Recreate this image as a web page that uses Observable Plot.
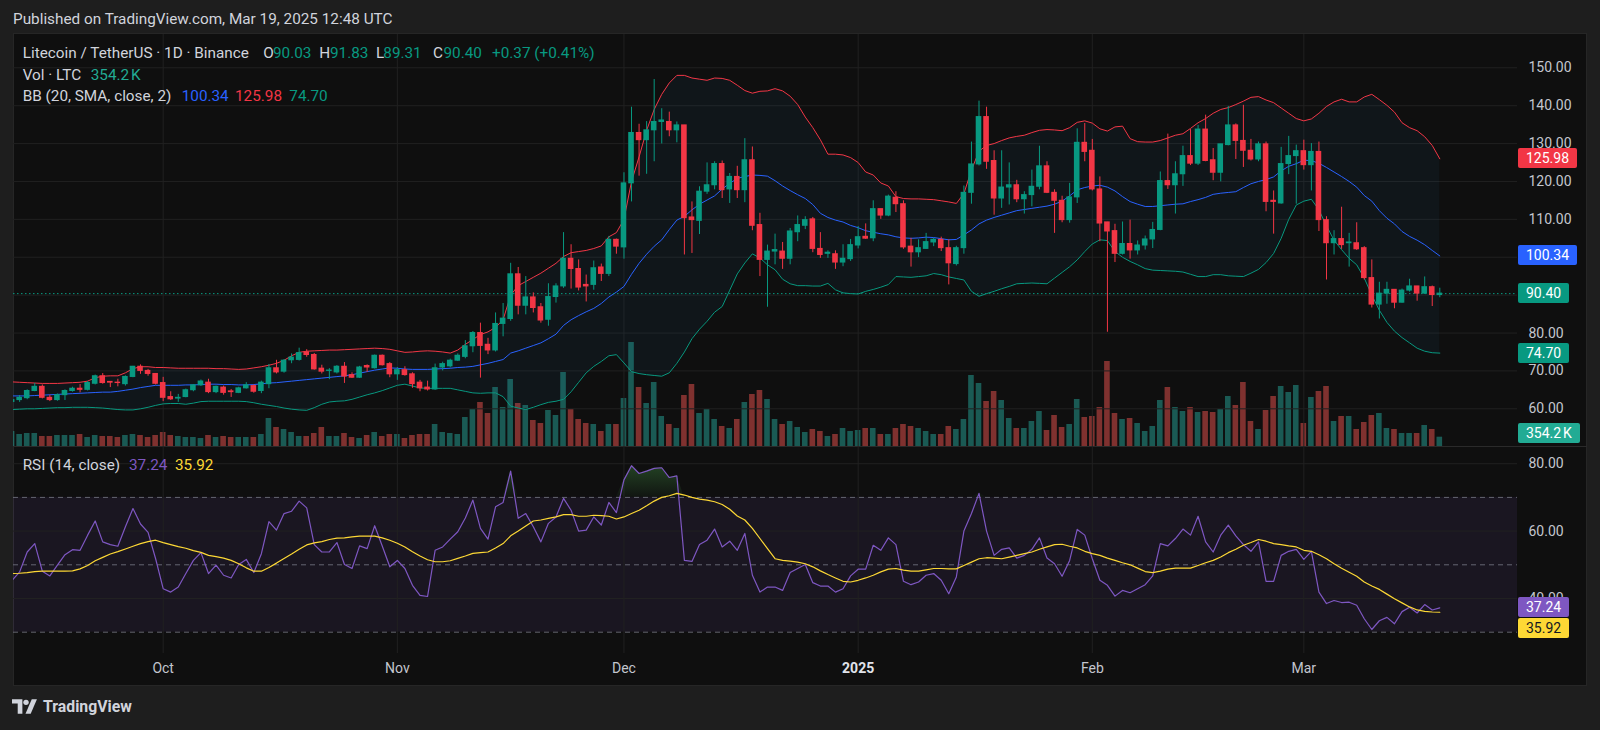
<!DOCTYPE html>
<html>
<head>
<meta charset="utf-8">
<script src="https://cdn.jsdelivr.net/npm/d3@7"></script>
<script src="https://cdn.jsdelivr.net/npm/@observablehq/plot@0.6"></script>
<style>
html,body{margin:0;padding:0;background:#1e1e1e;overflow:hidden;}
#root{position:relative;width:1600px;height:730px;background:#1e1e1e;font-family:Roboto,"Noto Sans",sans-serif;overflow:hidden;}
#frame{position:absolute;left:12.5px;top:33.3px;width:1574.5px;height:652.7px;background:#0f0f0f;box-sizing:border-box;border:1px solid #262626;}
#sep{position:absolute;left:12.5px;top:446px;width:1574.5px;height:1px;background:#2a2a2a;}
#layers{position:absolute;left:0;top:0;width:1600px;height:730px;clip-path:inset(0px 0px 0px 13px);}
.layer{position:absolute;left:0;top:0;}
.txt{position:absolute;white-space:nowrap;line-height:20px;font-size:15.3px;color:#d1d4dc;}
.badge{position:absolute;left:1518px;height:20px;line-height:20px;padding:0 8px;border-radius:2px;font-size:14px;color:#fff;white-space:nowrap;}
</style>
</head>
<body>
<div id="root">
  <div class="txt" style="left:13px;top:9px;font-size:15.3px;">Published on TradingView.com, Mar 19, 2025 12:48 UTC</div>
  <div id="frame"></div>
  <div id="sep"></div>
  <div id="layers"></div>
  <div id="legend"></div>
  <div id="badges"></div>
  <div style="position:absolute;left:12px;top:696px;height:20px;display:flex;align-items:center;">
    <svg width="27" height="15" viewBox="0 0 26 14"><path d="M0 0h10v14H5.5V4H0z" fill="#d1d4dc"/><circle cx="13.5" cy="3" r="2.6" fill="#d1d4dc"/><path d="M19 0h5l-6 14h-5z" fill="#d1d4dc"/></svg>
    <span style="margin-left:4px;font-size:15.8px;font-weight:700;color:#d1d4dc;">TradingView</span>
  </div>
</div>
<script>
// ---------------- data ----------------
const startDay = "2024-09-11"; // first daily candle; one candle per day to 2025-03-19

const open = [
61.8,62.3,62.8,64.7,65.8,62.9,62.3,63.6,64.7,65.3,
65.0,66.6,68.6,67.1,66.9,66.5,68.4,71.1,70.0,69.2,
66.8,63.1,62.7,63.1,64.9,66.2,66.9,64.4,65.6,64.6,
64.2,65.4,66.0,64.7,66.5,70.7,69.8,72.8,72.9,74.9,
74.2,70.6,70.0,69.6,71.1,68.9,68.2,71.3,70.7,74.0,
71.8,69.1,70.2,69.1,66.9,65.6,65.1,70.9,71.2,72.7,
73.7,76.5,80.0,76.9,75.4,82.4,83.7,95.5,87.2,89.4,
86.8,83.5,89.5,92.3,99.6,96.9,92.7,92.7,97.3,95.6,
104.6,102.6,119.5,132.8,130.9,133.5,135.7,135.7,133.5,134.8,
110.5,109.6,117.3,119.0,124.6,117.9,121.2,117.7,125.6,108.5,
99.3,101.5,101.5,99.6,106.6,108.3,110.0,102.2,100.9,100.8,
98.6,99.5,103.1,105.4,105.0,112.7,111.0,115.7,114.0,102.8,
101.3,102.2,103.9,104.6,102.4,98.2,102.4,117.0,124.5,137.0,
125.4,115.5,118.4,119.0,115.3,116.4,118.6,124.0,117.0,114.9,
109.8,115.8,130.2,128.1,117.9,109.2,106.9,100.9,103.5,101.8,
103.1,104.7,107.2,120.1,119.0,121.9,126.7,124.7,133.7,125.6,
122.3,129.6,134.8,130.7,128.1,125.8,129.8,114.9,114.2,124.6,
126.7,128.0,124.3,127.8,109.8,103.7,104.8,103.7,103.7,102.4,
94.5,87.5,90.4,91.4,88.0,91.2,92.3,90.4,92.1,90.03];

const high = [
62.8,63.5,65.0,66.7,66.3,63.6,63.9,65.0,65.7,66.4,
67.2,68.9,69.3,67.2,67.8,68.7,71.2,71.6,70.4,69.3,
68.3,64.5,63.8,65.2,66.4,67.6,67.8,66.0,66.0,65.1,
65.7,66.9,66.3,67.3,71.7,72.8,73.0,74.5,76.0,75.6,
74.6,71.5,70.6,71.4,72.2,69.5,71.2,71.6,74.2,74.2,
72.2,70.9,71.1,69.5,67.5,67.3,71.8,72.3,73.1,74.5,
78.0,80.4,82.6,78.6,85.3,87.8,98.4,97.3,94.9,90.6,
87.8,93.0,93.0,106.5,103.3,99.3,95.3,99.0,98.2,105.5,
104.8,122.3,139.6,135.1,135.8,146.9,139.2,138.3,135.7,134.8,
114.6,118.6,124.9,125.2,125.4,122.1,124.0,131.3,129.1,111.6,
103.2,106.1,103.9,107.6,110.9,110.7,110.5,106.5,101.7,101.7,
103.3,104.7,108.1,108.8,114.9,112.7,116.4,117.3,114.9,105.0,
104.6,106.3,105.0,105.3,104.6,102.9,118.8,130.4,141.2,139.6,
128.1,128.1,124.9,120.3,117.3,123.0,129.3,125.2,117.8,116.1,
119.5,133.9,135.3,131.1,121.2,109.2,108.7,109.3,109.8,104.3,
105.6,109.2,122.5,132.5,125.2,129.3,133.7,134.8,137.5,128.7,
129.8,139.8,135.2,140.1,131.1,130.4,130.4,117.5,129.0,131.9,
129.6,130.9,130.0,130.4,110.7,107.0,113.2,106.3,109.1,102.8,
99.3,93.4,93.4,91.4,91.6,94.2,92.3,94.8,92.4,91.83];

const low = [
61.5,61.7,62.4,64.5,62.6,61.9,62.0,62.2,64.4,64.2,
64.7,66.3,66.5,65.6,65.8,66.0,68.2,69.1,68.6,66.3,
61.9,62.2,61.7,62.9,64.5,65.9,64.0,64.0,63.6,63.0,
64.0,65.2,64.1,64.0,65.3,69.2,69.4,71.9,72.6,73.6,
70.2,69.2,67.7,69.2,66.7,68.0,68.0,69.6,70.5,71.3,
68.2,67.5,68.6,65.4,64.5,64.7,64.9,70.0,70.8,72.5,
73.2,74.8,68.1,74.3,75.0,79.0,83.1,84.8,84.8,85.3,
82.6,81.8,87.9,91.8,91.6,91.1,88.2,91.3,93.6,94.9,
100.8,99.5,114.6,121.4,121.9,125.2,129.9,131.8,130.2,100.6,
101.0,106.0,116.6,117.8,115.5,114.2,115.5,114.4,107.0,94.9,
86.8,98.0,96.8,98.0,104.1,107.3,101.2,99.7,99.7,96.8,
97.5,98.9,102.2,104.7,104.1,110.0,110.7,111.8,102.1,97.4,
99.9,102.1,102.8,101.5,92.7,97.7,100.8,114.0,124.1,123.2,
111.1,112.9,113.8,114.4,111.4,113.3,117.8,116.8,106.3,109.1,
109.0,114.2,125.2,117.5,104.1,80.2,98.6,100.6,99.5,100.6,
101.9,102.3,107.0,117.9,111.4,118.7,124.2,124.2,125.2,120.2,
119.9,129.4,125.8,123.7,125.4,125.2,112.0,106.1,114.0,121.8,
114.0,123.0,117.5,106.8,94.0,100.6,102.1,97.4,101.8,94.0,
86.6,83.7,87.6,86.4,87.9,90.8,88.4,90.2,87.0,89.31];

const close = [
62.3,62.9,64.7,65.8,62.9,62.3,63.6,64.7,65.3,65.0,
66.8,68.6,66.8,66.9,66.8,68.4,71.1,70.0,69.2,66.6,
62.9,62.5,62.9,64.9,66.2,67.2,64.4,65.8,64.2,64.4,
65.4,66.2,64.5,66.9,70.7,69.6,72.7,73.5,74.7,74.2,
70.4,69.8,70.1,71.1,68.5,68.2,70.9,70.9,74.0,71.5,
69.1,70.2,68.9,66.5,65.4,65.1,70.7,71.8,72.7,74.0,
76.5,80.0,76.6,75.4,82.4,83.8,95.5,87.2,89.4,86.6,
83.3,89.5,92.3,99.6,96.9,92.0,92.3,97.1,95.6,104.6,
102.8,119.5,132.8,130.9,133.5,135.7,136.1,133.5,134.8,110.3,
109.8,117.3,119.0,124.6,117.7,121.2,117.7,125.6,108.3,99.3,
101.5,101.9,99.6,106.8,108.5,109.8,102.2,100.6,101.2,98.6,
99.6,103.2,105.3,104.9,112.7,111.0,116.0,114.0,102.6,101.3,
102.4,104.0,104.6,102.4,98.4,102.4,117.0,124.5,137.0,125.2,
115.5,118.4,119.0,115.3,116.4,118.6,124.0,117.0,114.9,109.8,
115.8,130.2,127.8,117.9,108.9,106.8,100.9,103.5,101.8,103.1,
104.7,107.2,120.1,119.0,121.9,126.7,124.7,133.7,125.4,122.3,
129.8,134.8,130.7,128.1,125.8,129.8,114.6,114.6,124.6,126.7,
128.0,124.3,127.8,109.8,103.7,104.8,103.2,103.9,102.1,94.5,
87.5,90.4,91.4,88.0,91.2,92.3,90.4,92.1,90.03,90.40];

// volume, thousands of LTC
const volume = [
570,456,494,494,380,380,418,418,418,456,
342,418,380,380,342,418,456,418,342,418,
532,418,380,342,342,304,418,342,380,342,
342,342,342,456,1064,722,646,532,380,380,
494,722,380,380,494,342,304,418,532,380,
456,456,304,418,456,456,836,532,494,456,
1102,1406,1672,1254,2242,1482,2546,1634,1558,988,
874,1368,1178,2812,1406,1026,874,836,570,836,
836,1824,3952,2242,1634,2432,1140,836,684,1938,
2356,1254,1406,1026,760,684,1026,1672,1976,2128,
1786,1026,836,950,722,532,646,570,380,456,
684,570,608,684,684,456,456,684,836,760,
684,570,456,456,760,646,1026,2698,2394,1710,
2090,1748,1064,684,684,950,1330,608,1178,722,
836,1786,1102,1140,1482,3230,1254,1026,1064,874,
570,760,1748,2242,1482,1330,1482,1292,1330,1292,
1406,1900,1558,2432,950,646,1368,1900,2280,2052,
2318,874,1862,2090,2280,950,1140,1140,646,912,
1178,1254,684,646,494,494,494,798,646,354.2];

const bbUpper = [
67.1,67.0,66.9,66.8,66.7,66.7,66.7,66.8,66.9,67.0,
67.3,68.2,68.6,68.7,68.7,69.5,70.6,71.1,71.1,70.9,
70.9,70.8,70.7,70.7,70.7,70.7,70.7,70.6,70.6,70.5,
70.4,70.5,70.8,71.1,71.5,72.0,72.8,74.0,74.9,75.2,
75.3,75.4,75.5,75.5,75.6,75.7,75.8,75.9,76.0,75.9,
75.7,75.3,74.9,75.0,75.2,75.3,75.2,75.0,74.7,75.5,
77.0,78.3,79.6,80.3,81.5,83.5,90.0,92.5,93.6,94.7,
95.8,97.1,98.4,100.2,101.2,101.5,101.8,102.3,103.0,105.4,
106.5,110.0,120.0,126.5,133.5,139.0,143.0,146.0,148.0,148.0,
147.3,147.0,146.7,147.3,147.2,146.7,145.4,144.0,143.3,143.8,
143.9,144.5,143.9,142.5,140.3,137.0,134.2,131.0,127.2,127.2,
127.0,126.3,125.0,122.5,121.7,119.6,118.8,116.0,115.5,115.4,
115.4,115.3,115.2,114.9,114.6,114.2,116.8,123.0,128.0,129.5,
130.0,130.8,131.5,131.9,132.2,132.9,133.5,133.7,133.6,133.4,
134.2,135.6,136.0,135.4,133.9,133.3,134.4,134.6,131.3,130.5,
130.4,130.4,130.8,131.5,132.2,132.6,134.0,135.5,136.6,138.0,
139.0,139.5,140.3,141.2,142.2,142.4,141.5,140.8,139.4,138.0,
136.6,136.0,136.5,138.0,139.8,141.0,141.7,141.0,141.0,142.3,
143.0,141.6,140.1,138.3,135.5,134.2,133.4,131.8,129.5,125.98];

const bbMid = [
63.4,63.4,63.4,63.5,63.6,63.7,63.8,63.9,64.0,64.1,
64.2,64.3,64.4,64.4,64.6,64.9,65.2,65.6,65.9,66.2,
66.2,66.2,66.2,66.3,66.3,66.4,66.5,66.5,66.4,66.4,
66.3,66.3,66.4,66.6,66.8,66.9,67.1,67.3,67.5,67.7,
67.9,68.1,68.3,68.5,68.7,69.0,69.4,69.8,70.2,70.5,
70.8,70.7,70.5,70.4,70.4,70.4,70.5,70.6,70.7,70.9,
71.0,71.2,71.6,72.0,72.5,73.0,74.7,75.3,76.0,76.7,
77.4,78.5,79.7,82.0,83.5,84.6,85.6,86.5,87.8,89.5,
90.8,92.3,95.5,98.4,100.8,102.9,104.6,107.3,109.8,110.8,
112.5,114.0,115.1,116.2,118.0,119.5,120.8,121.3,121.7,121.6,
121.4,120.2,118.8,117.6,116.5,115.5,113.9,111.6,110.5,109.8,
109.3,108.4,107.8,107.0,106.6,106.2,105.9,105.4,105.1,105.0,
105.1,105.3,105.2,104.9,104.6,104.7,105.9,107.2,108.8,109.8,
110.5,111.1,111.7,112.3,112.6,112.9,113.2,113.5,114.0,114.8,
116.2,117.8,118.4,118.8,119.0,118.5,117.5,116.0,114.7,114.0,
113.4,113.4,113.6,113.8,114.0,114.1,114.7,115.2,115.8,116.6,
116.9,117.1,117.3,118.4,119.4,120.0,120.5,121.2,122.8,124.0,
124.7,125.6,125.5,124.8,123.7,122.5,121.3,120.0,118.5,116.3,
114.8,112.3,110.3,108.8,106.8,105.5,104.5,103.3,101.8,100.34];

const bbLower = [
59.8,59.9,60.0,60.0,60.1,60.2,60.3,60.3,60.4,60.4,
60.4,60.3,60.2,60.0,59.8,59.7,59.7,60.0,60.4,60.9,
61.3,61.4,61.4,61.2,61.5,61.9,62.0,62.0,62.0,62.0,
62.0,61.9,61.6,61.2,60.9,60.6,60.2,59.9,59.7,59.6,
60.3,61.2,61.8,62.0,62.1,62.5,63.1,63.7,64.2,64.8,
65.5,66.2,66.5,66.0,65.5,65.4,65.4,65.4,65.4,65.0,
64.6,64.2,64.1,64.2,64.2,63.2,60.7,60.2,59.8,60.4,
61.1,61.7,62.0,62.5,64.5,67.0,69.5,71.2,72.5,74.0,
74.3,72.1,69.8,69.3,69.0,68.8,68.6,69.5,72.0,75.0,
78.5,81.0,83.1,85.5,87.0,91.3,95.6,98.5,100.9,99.8,
98.0,96.7,94.2,93.0,92.5,92.5,92.4,92.4,93.1,91.4,
90.6,90.4,90.3,91.0,91.5,92.1,92.8,94.9,94.8,94.7,
94.9,95.1,95.7,95.4,94.8,94.4,94.0,91.0,89.7,90.4,
91.0,91.7,92.3,93.0,93.1,93.2,93.1,93.0,94.5,96.0,
97.5,99.3,101.5,103.5,104.6,104.4,101.5,100.0,98.9,98.0,
97.0,96.6,96.5,96.4,96.3,96.1,95.5,94.9,94.9,95.4,
95.4,95.1,95.0,94.9,95.8,96.8,98.6,101.0,105.0,110.0,
113.8,114.8,115.3,112.5,108.3,104.5,102.0,99.7,98.0,94.5,
90.0,86.0,82.8,80.5,78.8,77.4,76.0,75.2,74.8,74.70];

const rsi = [
45.4,47.9,53.8,56.3,48.1,46.7,49.9,53.0,54.5,54.3,
58.8,63.0,56.8,56.0,55.5,61.3,66.7,62.1,59.6,51.8,
42.9,41.9,43.4,47.4,51.3,53.6,47.4,49.9,46.9,46.1,
50.1,51.6,47.7,53.3,62.8,60.3,65.2,65.9,68.9,66.9,
56.0,53.8,53.8,56.6,50.1,48.9,55.6,54.8,61.6,55.6,
49.4,51.3,48.9,43.9,40.9,40.6,54.3,55.3,57.6,59.8,
63.9,69.2,60.8,57.6,67.2,68.5,77.8,63.8,65.2,61.3,
56.8,62.3,64.2,69.7,66.2,60.0,60.3,64.2,61.8,68.5,
65.5,75.2,79.4,77.1,77.8,78.6,78.8,75.9,76.4,51.3,
51.0,56.0,57.3,60.6,55.3,57.0,54.3,59.3,46.9,41.9,
43.4,43.4,42.4,47.7,48.9,50.1,44.7,43.7,43.7,41.9,
42.9,46.7,48.7,48.7,55.8,54.3,58.0,56.0,45.1,44.1,
44.9,46.9,47.4,45.4,41.4,46.4,60.0,65.2,71.2,60.0,
52.8,54.6,55.0,52.0,52.8,54.6,58.0,52.0,50.3,46.6,
51.3,60.5,58.8,51.8,45.4,43.9,40.7,42.4,41.7,42.9,
44.1,46.7,56.3,55.6,57.8,60.6,58.8,64.4,56.8,53.8,
58.8,61.8,58.6,56.0,54.0,56.8,45.1,45.1,52.8,54.0,
54.6,51.6,54.0,41.9,38.5,39.4,38.8,38.9,38.0,34.0,
30.8,33.4,34.4,32.5,36.1,37.4,35.7,38.2,36.6,37.24];

const rsiMa = [
47.4,47.5,47.7,48.0,48.1,48.1,48.1,48.1,48.2,48.8,
49.8,51.2,52.2,53.2,53.9,54.7,55.5,56.3,56.9,57.3,
56.6,56.0,55.4,54.9,54.2,53.7,52.8,52.4,52.0,51.3,
50.3,49.1,48.1,48.1,49.2,50.5,51.9,53.2,54.6,55.9,
56.5,56.9,57.5,57.9,58.0,58.3,58.5,58.5,58.5,58.0,
57.3,56.4,55.3,53.9,52.6,51.5,50.9,50.9,51.2,51.9,
52.6,53.4,53.6,53.8,55.0,56.3,58.6,60.0,61.5,63.0,
63.3,63.8,64.2,64.9,64.9,64.4,64.4,64.7,64.6,64.4,
63.6,64.2,65.2,66.2,67.5,68.9,70.0,70.5,71.2,70.7,
70.0,69.5,69.2,68.7,67.9,66.5,64.5,63.3,60.8,57.8,
54.8,51.8,51.3,51.1,50.8,50.3,49.4,48.2,47.1,46.1,
45.1,44.9,45.4,46.1,46.9,47.9,48.7,48.9,48.4,48.1,
48.1,48.5,48.9,48.9,48.8,48.8,49.8,50.8,51.8,52.1,
52.0,51.8,52.3,52.8,53.3,53.8,54.6,55.3,56.0,56.1,
55.5,55.0,54.0,53.3,52.8,52.0,51.3,50.6,50.0,49.0,
48.0,47.7,48.1,48.7,49.0,49.0,49.0,49.8,50.6,51.3,
52.3,53.6,54.6,55.8,56.6,57.5,57.0,56.3,56.0,55.6,
55.3,54.3,54.0,53.0,51.8,50.3,49.0,47.8,46.6,44.9,
43.7,42.7,41.3,39.9,38.7,37.5,36.6,36.2,36.0,35.92];

const priceTicks = [60, 70, 80, 90, 100, 110, 120, 130, 140, 150];
const rsiTicks = [40, 60, 80];
const rsiLevels = [30, 50, 70];
const monthTickDates = ["2024-10-01", "2024-11-01", "2024-12-01", "2025-01-01", "2025-02-01", "2025-03-01"];
const monthTickLabels = ["Oct", "Nov", "Dec", "2025", "Feb", "Mar"];
const lastVolumeLabel = "354.2\u202FK";

// legend pieces: [text, colour, left]
const legendLines = [
  {top: 43, parts: [["Litecoin / TetherUS · 1D · Binance", "#d1d4dc", 22.7], ["O", "#d1d4dc", 263.3], ["90.03", "#089981", 273], ["H", "#d1d4dc", 319.3], ["91.83", "#089981", 330], ["L", "#d1d4dc", 376], ["89.31", "#089981", 383.3], ["C", "#d1d4dc", 433], ["90.40", "#089981", 443.5], ["+0.37 (+0.41%)", "#089981", 492]]},
  {top: 65, parts: [["Vol · LTC", "#d1d4dc", 22.7], ["354.2\u202FK", "#22ab94", 90.7]]},
  {top: 86, parts: [["BB (20, SMA, close, 2)", "#d1d4dc", 22.7], ["100.34", "#2962ff", 181.7], ["125.98", "#f23645", 235], ["74.70", "#089981", 289.3]]},
  {top: 454.7, parts: [["RSI (14, close)", "#d1d4dc", 22.7], ["37.24", "#7e57c2", 129], ["35.92", "#fdd835", 175]]}
];

// ---------------- build ----------------
const UP = "#089981", DOWN = "#f23645", GRID = "#212121", AXIS_TEXT = "#c3c6ce";
const start = new Date(startDay + "T00:00:00Z");
const dates = open.map((_, i) => d3.utcDay.offset(start, i));
const candles = dates.map((date, i) => ({
  date, open: open[i], high: high[i], low: low[i], close: close[i], volume: volume[i],
  up: close[i] >= open[i], bbUpper: bbUpper[i], bbMid: bbMid[i], bbLower: bbLower[i],
  rsi: rsi[i], rsiMa: rsiMa[i]
}));
const months = monthTickDates.map((d, i) => ({date: new Date(d + "T00:00:00Z"), label: monthTickLabels[i]}));
const monthDates = months.map(m => m.date);
const HOUR = 3600e3;

const xScale = {type: "utc", domain: [dates[0], dates[dates.length - 1]], range: [11.6, 1439.3], axis: null};
const base = {
  width: 1600, height: 730, marginLeft: 13, marginRight: 83,
  color: {type: "identity"},
  style: {background: "transparent", overflow: "visible", fontFamily: "Roboto, 'Noto Sans', sans-serif", fontSize: "14px", color: AXIS_TEXT}
};

const volPlot = Plot.plot({
  ...base, marginTop: 34, marginBottom: 284,
  x: xScale,
  y: {domain: [0, 3800], range: [446, 346], axis: null},
  marks: [
    Plot.rect(candles, {
      x1: d => new Date(+d.date - 8.9 * HOUR), x2: d => new Date(+d.date + 8.9 * HOUR),
      y1: 0, y2: "volume", fill: d => d.up ? "#26a69a" : "#ef5350", fillOpacity: 0.5
    })
  ]
});

const pricePlot = Plot.plot({
  ...base, marginTop: 34, marginBottom: 284,
  x: xScale,
  y: {domain: [60, 150], range: [408.3, 67.3], axis: null},
  marks: [
    Plot.ruleY(priceTicks, {stroke: GRID}),
    Plot.ruleX(monthDates, {stroke: GRID}),
    Plot.areaY(candles, {x: "date", y1: "bbLower", y2: "bbUpper", fill: "#2196f3", fillOpacity: 0.05}),
    Plot.lineY(candles, {x: "date", y: "bbUpper", stroke: "#f23645", strokeWidth: 1}),
    Plot.lineY(candles, {x: "date", y: "bbMid", stroke: "#2962ff", strokeWidth: 1}),
    Plot.lineY(candles, {x: "date", y: "bbLower", stroke: "#089981", strokeWidth: 1}),
    Plot.ruleY([close[close.length - 1]], {stroke: UP, strokeDasharray: "1.5,2.5"}),
    Plot.ruleX(candles, {x: "date", y1: "low", y2: "high", stroke: d => d.up ? UP : DOWN, strokeWidth: 1}),
    Plot.rect(candles, {
      x1: d => new Date(+d.date - 8.9 * HOUR), x2: d => new Date(+d.date + 8.9 * HOUR),
      y1: "open", y2: "close", fill: d => d.up ? UP : DOWN, insetTop: -0.5, insetBottom: -0.5
    }),
    Plot.axisY(priceTicks, {anchor: "right", tickSize: 0, tickPadding: 11, tickFormat: d => d.toFixed(2), fill: AXIS_TEXT, fontSize: 14, textAnchor: "start"})
  ]
});

const rsiPlot = Plot.plot({
  ...base, marginTop: 446, marginBottom: 77,
  x: xScale,
  y: {domain: [30, 80], range: [631.7, 463.2], axis: null},
  marks: [
    () => {
      const defs = d3.create("svg:defs");
      const g = defs.append("linearGradient").attr("id", "obFill").attr("x1", 0).attr("y1", 0).attr("x2", 0).attr("y2", 1);
      g.append("stop").attr("offset", "0%").attr("stop-color", "#4caf50").attr("stop-opacity", 0.32);
      g.append("stop").attr("offset", "100%").attr("stop-color", "#4caf50").attr("stop-opacity", 0.04);
      return defs.node();
    },
    Plot.rect([0], {y1: 30, y2: 70, fill: "#7e57c2", fillOpacity: 0.1}),
    Plot.ruleY(rsiTicks, {stroke: GRID}),
    Plot.ruleX(monthDates, {stroke: GRID}),
    Plot.ruleY(rsiLevels, {stroke: "#787b86", strokeOpacity: 0.8, strokeDasharray: "5,4"}),
    Plot.areaY(candles, {x: "date", y1: 70, y2: d => Math.max(70, d.rsi), fill: "url(#obFill)"}),
    Plot.lineY(candles, {x: "date", y: "rsi", stroke: "#7e57c2", strokeWidth: 1.2}),
    Plot.lineY(candles, {x: "date", y: "rsiMa", stroke: "#fdd835", strokeWidth: 1.2}),
    Plot.axisY(rsiTicks, {anchor: "right", tickSize: 0, tickPadding: 11, tickFormat: d => d.toFixed(2), fill: AXIS_TEXT, fontSize: 14, textAnchor: "start"}),
    Plot.axisX(months.filter(m => m.label !== "2025").map(m => m.date), {
      anchor: "bottom", tickSize: 0, tickPadding: 10, fill: AXIS_TEXT, fontSize: 14,
      tickFormat: d => months.find(m => +m.date === +d).label
    }),
    Plot.axisX(months.filter(m => m.label === "2025").map(m => m.date), {
      anchor: "bottom", tickSize: 0, tickPadding: 10, fill: "#e0e3eb", fontSize: 14, fontWeight: "bold",
      tickFormat: d => months.find(m => +m.date === +d).label
    })
  ]
});

const layers = document.getElementById("layers");
for (const p of [volPlot, pricePlot, rsiPlot]) {
  const w = document.createElement("div");
  w.className = "layer";
  w.appendChild(p);
  layers.appendChild(w);
}

// legend text
const legend = document.getElementById("legend");
for (const line of legendLines) {
  for (const [text, color, left] of line.parts) {
    const el = document.createElement("div");
    el.className = "txt";
    el.style.left = left + "px";
    el.style.top = line.top + "px";
    el.style.color = color;
    el.textContent = text;
    legend.appendChild(el);
  }
}

// value badges on the right scale, placed through the charts' own scales
const py = pricePlot.scale("y"), vy = volPlot.scale("y"), ry = rsiPlot.scale("y");
const n = close.length - 1;
const rsiY = ry.apply(rsi[n]);
let maY = ry.apply(rsiMa[n]);
if (Math.abs(maY - rsiY) < 21) maY = rsiY + 21;
const badges = [
  {text: bbUpper[n].toFixed(2), y: py.apply(bbUpper[n]), bg: "#f23645", fg: "#fff"},
  {text: bbMid[n].toFixed(2), y: py.apply(bbMid[n]), bg: "#2962ff", fg: "#fff"},
  {text: close[n].toFixed(2), y: py.apply(close[n]), bg: "#089981", fg: "#fff"},
  {text: bbLower[n].toFixed(2), y: py.apply(bbLower[n]), bg: "#089981", fg: "#fff"},
  {text: lastVolumeLabel, y: Math.min(vy.apply(volume[n]), 432.5), bg: "#22ab94", fg: "#fff"},
  {text: rsi[n].toFixed(2), y: rsiY, bg: "#7e57c2", fg: "#fff"},
  {text: rsiMa[n].toFixed(2), y: maY, bg: "#fdd835", fg: "#131722"}
];
const bdiv = document.getElementById("badges");
for (const b of badges) {
  const el = document.createElement("div");
  el.className = "badge";
  el.style.top = (b.y - 10) + "px";
  el.style.background = b.bg;
  el.style.color = b.fg;
  el.textContent = b.text;
  bdiv.appendChild(el);
}
</script>
</body>
</html>
